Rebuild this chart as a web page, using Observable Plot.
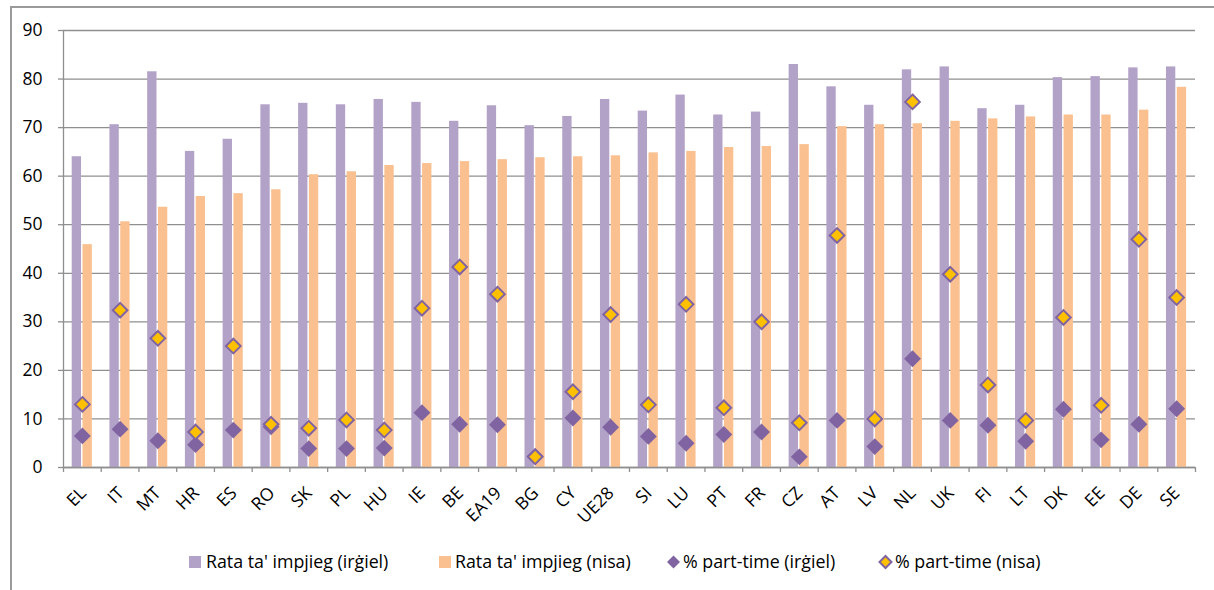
<!DOCTYPE html>
<html>
<head>
<meta charset="utf-8">
<script src="https://cdn.jsdelivr.net/npm/d3@7"></script>
<script src="https://cdn.jsdelivr.net/npm/@observablehq/plot@0.6"></script>
<style>
  html, body { margin: 0; padding: 0; background: #fff; }
  #wrap { position: relative; width: 1214px; height: 590px; overflow: hidden; font-family: "Open Sans", sans-serif; }
  #frame { position: absolute; left: 10px; top: 6px; width: 1300px; height: 700px; border-left: 2px solid #9a9a9a; border-top: 2px solid #9a9a9a; box-sizing: border-box; }
  #chart { position: absolute; left: 0; top: 0; }
  #legend { position: absolute; left: 0; top: 0; }
  .xlab { position: absolute; white-space: nowrap; font-size: 17.5px; line-height: 17.5px; color: #000; transform-origin: 100% 50%; transform: rotate(-45deg); }
</style>
</head>
<body>
<div id="wrap">
  <div id="frame"></div>
  <div id="chart"></div>
  <svg id="legend" width="1214" height="590"></svg>
</div>
<script>
const categories = ["EL","IT","MT","HR","ES","RO","SK","PL","HU","IE","BE","EA19","BG","CY","UE28","SI","LU","PT","FR","CZ","AT","LV","NL","UK","FI","LT","DK","EE","DE","SE"];
const menRate   = [64.0,70.6,81.5,65.1,67.6,74.7,75.0,74.7,75.8,75.2,71.3,74.5,70.4,72.3,75.8,73.4,76.7,72.6,73.2,83.0,78.4,74.6,81.9,82.5,73.9,74.6,80.3,80.5,82.3,82.5];
const womenRate = [45.9,50.6,53.6,55.8,56.4,57.2,60.3,60.9,62.2,62.6,63.0,63.4,63.8,64.0,64.2,64.8,65.1,65.9,66.1,66.5,70.2,70.6,70.8,71.3,71.8,72.2,72.6,72.6,73.6,78.3];
const menPT     = [6.5,7.9,5.5,4.7,7.7,8.4,3.9,3.9,4.0,11.3,8.9,8.8,2.3,10.2,8.3,6.4,5.0,6.8,7.3,2.2,9.7,4.3,22.4,9.7,8.7,5.4,12.0,5.7,8.9,12.1];
const womenPT   = [13.0,32.4,26.6,7.3,25.0,8.9,8.1,9.8,7.7,32.8,41.3,35.7,2.2,15.6,31.5,12.9,33.6,12.3,30.0,9.2,47.8,10.0,75.3,39.8,17.0,9.7,30.9,12.8,47.0,35.0];
const yTicks = [0,10,20,30,40,50,60,70,80,90];
const seriesNames = ["Rata ta' impjieg (irġiel)", "Rata ta' impjieg (nisa)", "% part-time (irġiel)", "% part-time (nisa)"];
const colors = { men: "#B3A2C7", women: "#FAC090", ptMen: "#8064A2", ptWomen: "#FFC000" };

const n = categories.length;
const idx = d3.range(n);
const gridColor = "#8f8f8f";
const fontFam = "'Open Sans', sans-serif";

const plot = Plot.plot({
  width: 1214,
  height: 520,
  marginLeft: 63,
  marginRight: 19,
  marginTop: 30,
  marginBottom: 53,
  style: { fontFamily: fontFam, color: "#000", background: "transparent" },
  x: { type: "linear", domain: [0, n], axis: null },
  y: { domain: [0, 90], axis: null },
  marks: [
    Plot.gridY(yTicks, { stroke: gridColor, strokeOpacity: 1, strokeWidth: 1.3 }),
    Plot.axisY(yTicks, { tickSize: 5, tickPadding: 16, stroke: gridColor, strokeWidth: 1.3, fontSize: 17.5, fill: "#000" }),
    Plot.rectY(idx, { x1: i => i, x2: i => i + 1, y: i => menRate[i], fill: colors.men, insetLeft: 8.7, insetRight: 19.7 }),
    Plot.rectY(idx, { x1: i => i, x2: i => i + 1, y: i => womenRate[i], fill: colors.women, insetLeft: 19.5, insetRight: 8.9 }),
    Plot.ruleX([0], { stroke: gridColor, strokeWidth: 1.3 }),
    Plot.ruleY([0], { stroke: gridColor, strokeWidth: 1.3 }),
    Plot.axisX(d3.range(n + 1), { tickSize: 5, tickFormat: () => "", stroke: gridColor, strokeWidth: 1.3 }),
    Plot.dot(idx, { x: i => i + 0.5, y: i => menPT[i], symbol: "diamond2", r: 7.6, fill: colors.ptMen }),
    Plot.dot(idx, { x: i => i + 0.5, y: i => womenPT[i], symbol: "diamond2", r: 6.6, fill: colors.ptWomen, stroke: colors.ptMen, strokeWidth: 2 })
  ]
});
document.getElementById("chart").appendChild(plot);

// rotated category labels (-45°), ending at each category centre, positioned with the plot's scales
const xs = plot.scale("x"), ys = plot.scale("y");
const wrap = d3.select("#wrap");
idx.forEach(i => {
  const px = xs.apply(i + 0.5) + 0.5, py = ys.apply(0) + 23;
  wrap.append("div").attr("class", "xlab")
    .style("right", (1214 - px).toFixed(2) + "px")
    .style("top", (py - 8.75).toFixed(2) + "px")
    .text(categories[i]);
});

// legend
const leg = d3.select("#legend");
const baseY = 568;
const items = [
  { type: "sq", color: colors.men, x: 189, tx: 206, label: seriesNames[0] },
  { type: "sq", color: colors.women, x: 439, tx: 455, label: seriesNames[1] },
  { type: "dm", color: colors.ptMen, x: 667, tx: 683, label: seriesNames[2] },
  { type: "dmo", color: colors.ptWomen, x: 878, tx: 895, label: seriesNames[3] }
];
items.forEach(it => {
  if (it.type === "sq") {
    leg.append("rect").attr("x", it.x).attr("y", 556).attr("width", 12).attr("height", 12).attr("fill", it.color);
  } else if (it.type === "dm") {
    const cx = it.x + 6.5, cy = 562;
    leg.append("path").attr("d", `M${cx},${cy-6.5}L${cx+6.5},${cy}L${cx},${cy+6.5}L${cx-6.5},${cy}Z`).attr("fill", it.color);
  } else {
    const cx = it.x + 7.5, cy = 562;
    leg.append("path").attr("d", `M${cx},${cy-6}L${cx+6},${cy}L${cx},${cy+6}L${cx-6},${cy}Z`).attr("fill", it.color).attr("stroke", colors.ptMen).attr("stroke-width", 2);
  }
  leg.append("text").attr("x", it.tx).attr("y", baseY).attr("font-size", 17.8).attr("font-family", fontFam).attr("fill", "#000").text(it.label);
});
</script>
</body>
</html>
